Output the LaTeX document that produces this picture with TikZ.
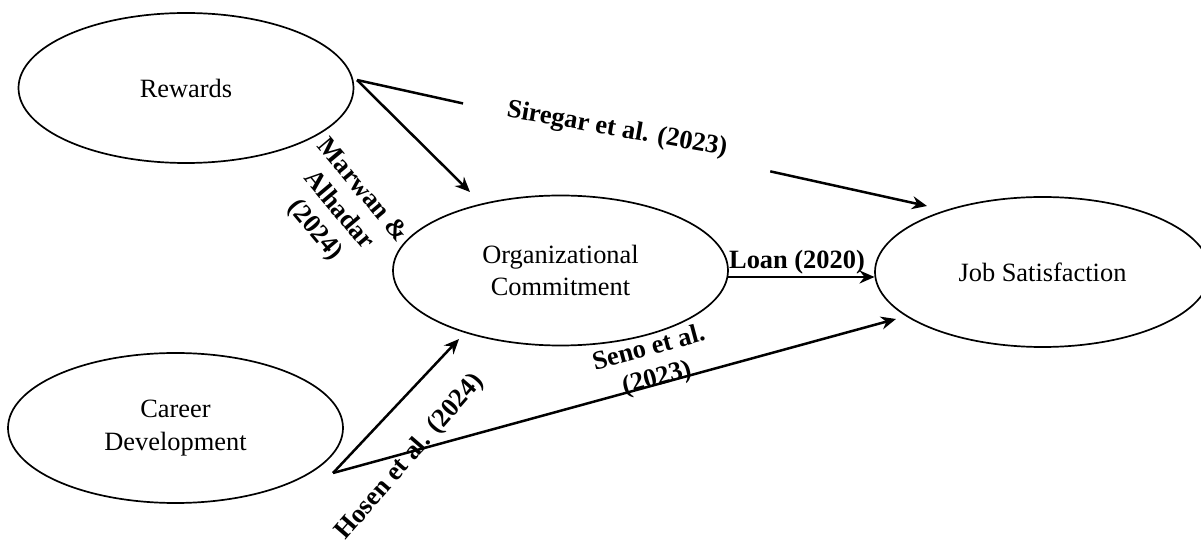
\documentclass[tikz,border=0pt]{standalone}
\usepackage{fontspec}
\setmainfont{Liberation Serif}
\usetikzlibrary{shapes.geometric,arrows.meta,calc}
\begin{document}
\begin{tikzpicture}[x=0.5pt,y=-0.5pt,
  var/.style={ellipse, draw, line width=0.85pt, minimum width=167.5pt, minimum height=75pt, inner sep=0pt, align=center, font=\fontsize{13.2}{16.2}\selectfont},
  conn/.style={line width=1.25pt},
  arr/.style={conn, -{Stealth[length=7.5pt,width=6.5pt,inset=2.5pt]}},
  lbl/.style={font=\fontsize{13.2}{15.5}\selectfont\bfseries, align=center, inner sep=0pt}]
\useasboundingbox (0,0) rectangle (1201,545);
\node[var] (rew) at (186,88) {Rewards};
\node[var] (org) at (560.5,270.5) {Organizational\\Commitment};
\node[var] (car) at (175.5,428) {Career\\Development};
\node[var] (job) at (1042.5,272) {Job Satisfaction};
\coordinate (rs) at ($(rew.center)+(171,-8)$);
\coordinate (cs) at ($(car.center)+(157.5,45)$);
\coordinate (t1) at ($(org.center)+(-90.5,-78.5)$);
\coordinate (t2) at ($(job.center)+(-115.5,-66)$);
\coordinate (os) at ($(org.center)+(167.5,6.5)$);
\coordinate (t3) at ($(job.center)+(-168,5)$);
\coordinate (t4) at ($(org.center)+(-101.5,68.5)$);
\coordinate (t5) at ($(job.center)+(-146.5,47)$);
% Rewards -> Org
\draw[arr] (rs) -- (t1);
% Rewards -> Job (broken by label)
\draw[conn] (rs) -- ($(rs)!0.186!(t2)$);
\draw[arr] ($(rs)!0.725!(t2)$) -- (t2);
% Org -> Job
\draw[arr] (os) -- (t3);
% Career -> Org
\draw[arr] (cs) -- (t4);
% Career -> Job
\draw[arr] (cs) -- (t5);
% labels
\node[lbl, rotate=-10] (lsir) at (617,130) {Siregar et al. (2023)};
\node[lbl, rotate=-50] (lmar) at (338,211) {Marwan \&\\Alhadar\\(2024)};
\node[lbl] (lloan) at (797,262) {Loan (2020)};
\node[lbl, rotate=15] (lseno) at (653,364) {Seno et al.\\(2023)};
\node[lbl, rotate=49] (lhos) at (410,457) {Hosen et al. (2024)};
\end{tikzpicture}
\end{document}
